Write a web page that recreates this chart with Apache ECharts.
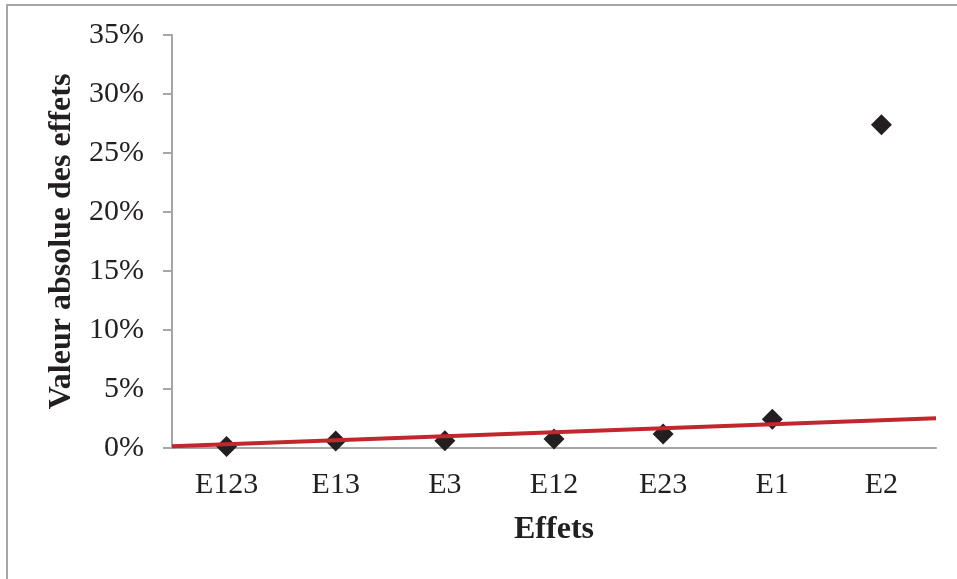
<!DOCTYPE html>
<html>
<head>
<meta charset="utf-8">
<script src="https://cdn.jsdelivr.net/npm/echarts@6/dist/echarts.min.js"></script>
<style>
  html, body { margin: 0; padding: 0; background: #fff; }
  #wrap { position: relative; width: 957px; height: 579px; }
  #main { width: 957px; height: 579px; }
  #frame {
    position: absolute; left: 6px; top: 4px; right: 0; bottom: 0;
    border-left: 2px solid #a6a6a6; border-top: 2px solid #a6a6a6;
    pointer-events: none;
  }
</style>
</head>
<body>
<div id="wrap">
  <div id="main"></div>
  <div id="frame"></div>
</div>
<script>
// data
const categories = ['E123', 'E13', 'E3', 'E12', 'E23', 'E1', 'E2'];
const effectValues = [0.13, 0.6, 0.62, 0.76, 1.19, 2.43, 27.4];
// trend line ends, x in category units (0 = left edge, 7 = right edge)
const trendX = [0, 7];
const trendY = [0.14, 2.52];

const serif = '"Liberation Serif", "Times New Roman", serif';
const axisGrey = '#a6a6a6';
const ink = '#231f20';

const chart = echarts.init(document.getElementById('main'));

const option = {
  animation: false,
  textStyle: { fontFamily: serif },
  grid: { left: 172, right: 21, top: 35, bottom: 131 },
  xAxis: [
    {
      type: 'category',
      data: categories,
      name: 'Effets',
      nameLocation: 'middle',
      nameGap: 66,
      nameTextStyle: { fontFamily: serif, fontSize: 32, fontWeight: 'bold', color: ink },
      axisLine: { lineStyle: { color: axisGrey, width: 2 } },
      axisTick: { length: 8, lineStyle: { color: axisGrey, width: 2 } },
      axisLabel: { fontFamily: serif, fontSize: 30, color: ink, margin: 22 }
    },
    {
      type: 'value',
      min: 0,
      max: 7,
      show: false
    }
  ],
  yAxis: {
    type: 'value',
    min: 0,
    max: 35,
    interval: 5,
    name: 'Valeur absolue des effets',
    nameLocation: 'middle',
    nameGap: 94,
    nameTextStyle: { fontFamily: serif, fontSize: 32, fontWeight: 'bold', color: ink },
    axisLine: { show: true, lineStyle: { color: axisGrey, width: 2 } },
    axisTick: { show: true, length: 9, lineStyle: { color: axisGrey, width: 2 } },
    axisLabel: { fontFamily: serif, fontSize: 30, color: ink, margin: 28, formatter: '{value}%' },
    splitLine: { show: false }
  },
  series: [
    {
      type: 'scatter',
      data: effectValues,
      symbol: 'diamond',
      symbolSize: 21,
      itemStyle: { color: ink, opacity: 1 },
      z: 2
    },
    {
      type: 'line',
      xAxisIndex: 1,
      data: trendX.map((x, i) => [x, trendY[i]]),
      symbol: 'none',
      lineStyle: { color: '#c1272d', width: 4 },
      z: 3
    }
  ]
};

chart.setOption(option);
</script>
</body>
</html>
